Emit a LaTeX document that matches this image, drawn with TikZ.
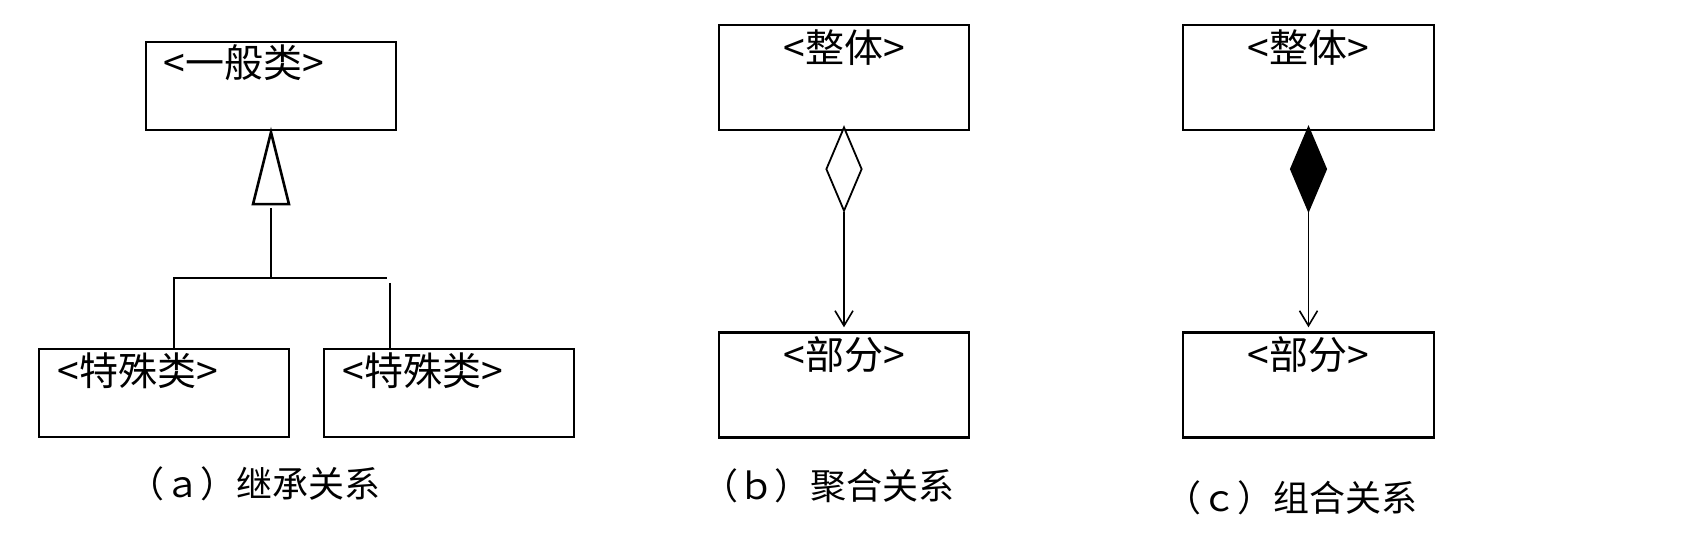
\documentclass[tikz,border=0pt]{standalone}
\usepackage{fontspec}
\newfontfamily\cjk{Noto Sans CJK SC}
\usetikzlibrary{calc,shapes.geometric,arrows.meta}
\tikzset{
  umlbox/.style={draw, line width=1.2pt, rectangle, inner sep=0pt, minimum width=125pt, minimum height=44pt},
  boxlabel/.style={inner sep=0pt, font=\cjk\fontsize{19.5pt}{21pt}\selectfont},
  caption/.style={inner sep=0pt, font=\cjk\fontsize{18pt}{20pt}\selectfont},
  inh/.style={line width=1.3pt},
  conn/.style={line width=0.8pt},
  aggr/.style={diamond, draw, line width=0.9pt, inner sep=0pt, minimum width=18pt, minimum height=42pt, fill=white},
  comp/.style={aggr, fill=black},
  openarrow/.style={-{Straight Barb[length=7.5pt,width=9pt,line width=0.8pt]}}
}
\begin{document}
\begin{tikzpicture}[x=0.5pt,y=-0.5pt]
\useasboundingbox (0,0) rectangle (1701,560);

% (a) inheritance
\node[umlbox] (gen) at (271,86) {};
\node[boxlabel, anchor=base west] (gent) at (163,78) {<一般类>};
\node[umlbox] (sp1) at (164,393) {};
\node[boxlabel, anchor=base west] (sp1t) at (57,385.5) {<特殊类>};
\node[umlbox] (sp2) at (449,393) {};
\node[boxlabel, anchor=base west] (sp2t) at (342,385.5) {<特殊类>};

\coordinate (tapex) at ($(gen.south)+(0,1)$);
\coordinate (tl) at ($(tapex)+(-18,72)$);
\coordinate (tr) at ($(tapex)+(18,72)$);
\draw[inh, line join=miter] (tapex) -- (tr) -- (tl) -- cycle;
\coordinate (vtop) at ($(tapex)+(0,76)$);
\coordinate (vbot) at (271,277);
\draw[inh] (vtop) -- (vbot);
\coordinate (barl) at (173,278);
\coordinate (barr) at (387,278);
\draw[inh] (barl) -- (barr);
\coordinate (jl) at (174,278);
\draw[inh] (jl) -- (jl |- sp1.north);
\coordinate (jr) at (390,283);
\draw[inh] (jr) -- (jr |- sp2.north);
\node[caption, anchor=base] (capa) at (254,497) {（ａ）继承关系};

% (b) aggregation
\node[umlbox, minimum width=125pt, minimum height=52.5pt] (wholeb) at (844,77.5) {};
\node[boxlabel, anchor=base] (wholebt) at (844,63) {<整体>};
\node[umlbox, minimum width=125pt, minimum height=52.5pt] (partb) at (844,385) {};
\node[boxlabel, anchor=base] (partbt) at (844,370) {<部分>};
\node[aggr, anchor=north] (dmb) at ($(wholeb.south)+(0,-5)$) {};
\draw[conn, openarrow, shorten >=2pt] (dmb.south) -- (partb.north);
\node[caption, anchor=base] (capb) at (828,500) {（ｂ）聚合关系};

% (c) composition
\node[umlbox, minimum width=125.5pt, minimum height=52.5pt] (wholec) at (1308.5,77.5) {};
\node[boxlabel, anchor=base] (wholect) at (1308.5,63) {<整体>};
\node[umlbox, minimum width=125.5pt, minimum height=52.5pt] (partc) at (1308.5,385) {};
\node[boxlabel, anchor=base] (partct) at (1308.5,370) {<部分>};
\node[comp, anchor=north] (dmc) at ($(wholec.south)+(0,-5)$) {};
\draw[conn, openarrow, shorten >=2pt] (dmc.south) -- (partc.north);
\node[caption, anchor=base] (capc) at (1291.5,511.5) {（ｃ）组合关系};
\end{tikzpicture}
\end{document}
